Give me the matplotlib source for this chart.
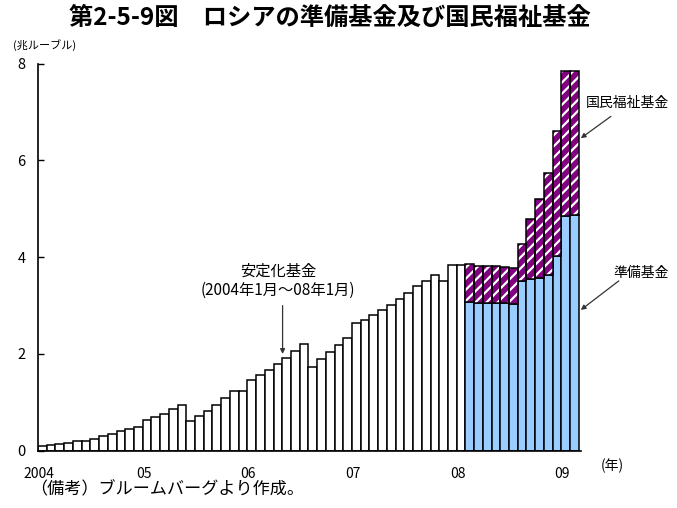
import matplotlib
matplotlib.use("Agg")
import matplotlib.pyplot as plt
import numpy as np

plt.rcParams['font.family'] = ['Noto Sans CJK JP', 'DejaVu Sans']
plt.rcParams['hatch.linewidth'] = 1.6

# Stabilization fund, Jan 2004 - Jan 2008 (trillion rubles)
stab_fund = [0.09, 0.11, 0.13, 0.16, 0.20, 0.21, 0.25, 0.30, 0.34, 0.40, 0.44, 0.50,
             0.63, 0.69, 0.75, 0.86, 0.94, 0.61, 0.71, 0.82, 0.94, 1.09, 1.23, 1.23,
             1.47, 1.57, 1.66, 1.79, 1.91, 2.07, 2.20, 1.72, 1.89, 2.04, 2.18, 2.34,
             2.64, 2.70, 2.80, 2.91, 3.01, 3.13, 3.25, 3.40, 3.50, 3.64, 3.50, 3.84,
             3.84]
# Reserve fund and National Welfare fund, Feb 2008 - Feb 2009
reserve_fund = [3.07, 3.06, 3.06, 3.06, 3.06, 3.04, 3.51, 3.55, 3.57, 3.64, 4.02, 4.86, 4.88]
welfare_fund = [0.78, 0.76, 0.76, 0.76, 0.74, 0.74, 0.76, 1.24, 1.64, 2.11, 2.59, 2.98, 2.96]
year_labels = ['2004', '05', '06', '07', '08', '09']
y_ticks = [0, 2, 4, 6, 8]

W, H = 677, 508
fig = plt.figure(figsize=(W / 100, H / 100), dpi=100)
ax = fig.add_axes([38 / W, 1 - 450.7 / H, (581 - 38) / W, (450.7 - 63.7) / H])

n_stab = len(stab_fund)
x_stab = np.arange(n_stab)
x_new = np.arange(n_stab, n_stab + len(reserve_fund))

ax.bar(x_stab, stab_fund, width=1.0, color='white', edgecolor='black', linewidth=1.1)
ax.bar(x_new, reserve_fund, width=1.0, color='#99CCFF', edgecolor='black', linewidth=1.1)
ax.bar(x_new, welfare_fund, bottom=reserve_fund, width=1.0, color='#800080',
       edgecolor='white', linewidth=0, hatch='///')
ax.bar(x_new, welfare_fund, bottom=reserve_fund, width=1.0, fill=False,
       edgecolor='black', linewidth=1.1)

ax.set_xlim(-0.5, 61.75)
ax.set_ylim(0, 8)
ax.set_yticks(y_ticks)
ax.set_yticklabels([str(v) for v in y_ticks], fontsize=10.5)
ax.set_xticks([12 * i - 0.4 for i in range(len(year_labels))])
ax.set_xticklabels(year_labels, fontsize=10)
ax.tick_params(axis='y', direction='in', length=4, width=1, pad=9)
ax.tick_params(axis='x', length=0, pad=12)
for s in ['top', 'right']:
    ax.spines[s].set_visible(False)
for s in ['left', 'bottom']:
    ax.spines[s].set_linewidth(1.2)

arrow = dict(arrowstyle='-|>', lw=0.9, color='#333333', mutation_scale=7, shrinkA=0, shrinkB=0)

ax.annotate('', xy=(27.54, 2.0), xytext=(27.54, 3.0), arrowprops=arrow, annotation_clip=False)
ax.text(27.0, 3.71, '安定化基金', ha='center', va='center', fontsize=11)
ax.text(27.0, 3.32, '(2004年1月～08年1月)', ha='center', va='center', fontsize=11)

ax.annotate('', xy=(61.73, 6.46), xytext=(65.17, 6.91), arrowprops=arrow, annotation_clip=False)
fig.text(627 / W, 1 - 103 / H, '国民福祉基金', ha='center', va='center', fontsize=10)

ax.annotate('', xy=(61.73, 2.91), xytext=(66.08, 3.51), arrowprops=arrow, annotation_clip=False)
fig.text(641 / W, 1 - 273 / H, '準備基金', ha='center', va='center', fontsize=10)

fig.text(330 / W, 1 - 18 / H, '第2-5-9図　ロシアの準備基金及び国民福祉基金',
         ha='center', va='center', fontsize=17.5, fontweight='bold')
fig.text(13 / W, 1 - 45 / H, '(兆ルーブル)', ha='left', va='center', fontsize=8)
fig.text(612 / W, 1 - 466 / H, '(年)', ha='center', va='center', fontsize=10)
fig.text(30 / W, 1 - 489 / H, '（備考）ブルームバーグより作成。', ha='left', va='center', fontsize=12.3)

fig.savefig('out.png', dpi=100)
